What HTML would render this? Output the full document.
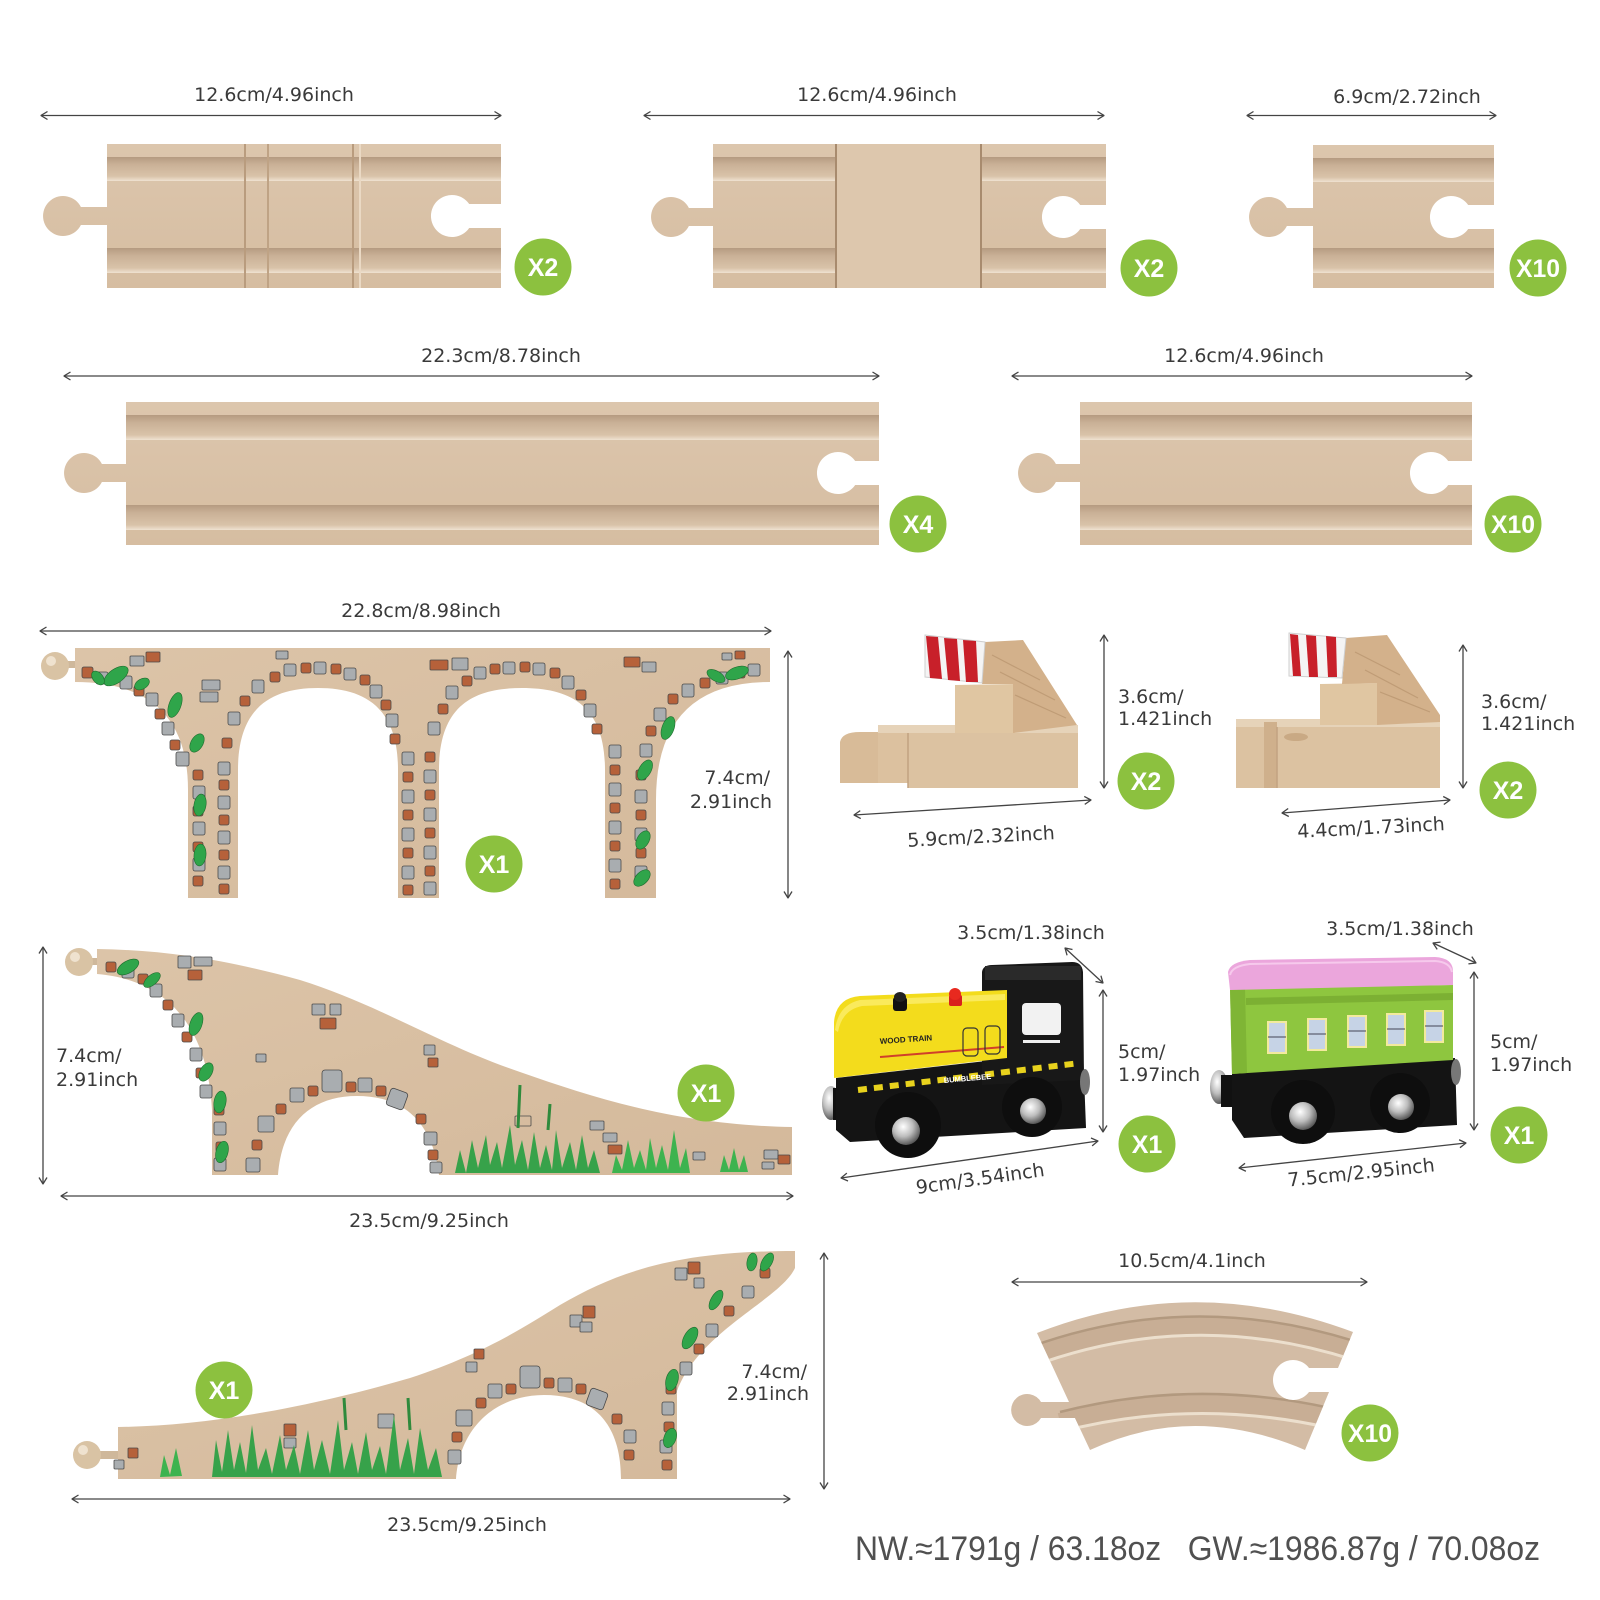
<!DOCTYPE html>
<html><head><meta charset="utf-8">
<style>html,body{margin:0;padding:0;background:#fff}svg{display:block}
.g{fill:#a9adb0;stroke:#4a4a4a;stroke-width:.8}
.b{fill:#b6613a;stroke:#4a4a4a;stroke-width:.8}
.l{fill:#2fa54a;stroke:#1f6b2e;stroke-width:.6}
</style></head>
<body>
<svg xmlns="http://www.w3.org/2000/svg" width="1600" height="1600" viewBox="0 0 1600 1600">
<defs>
<marker id="ah" viewBox="0 0 8 10" refX="7.5" refY="5" markerWidth="8" markerHeight="10" orient="auto-start-reverse" markerUnits="userSpaceOnUse"><path d="M1,1 L7.5,5 L1,9" fill="none" stroke="#444" stroke-width="1.3"/></marker>
<linearGradient id="wood" x1="0" y1="0" x2="0" y2="1"><stop offset="0" stop-color="#dcc6ad"/><stop offset="1" stop-color="#d6bda1"/></linearGradient>
<linearGradient id="woodB" x1="0" y1="0" x2="1" y2="1"><stop offset="0" stop-color="#dcc4a8"/><stop offset="1" stop-color="#d4b99b"/></linearGradient>
<linearGradient id="grv" x1="0" y1="0" x2="0" y2="1"><stop offset="0" stop-color="#b59b81"/><stop offset="0.3" stop-color="#c9b096"/><stop offset="0.8" stop-color="#d9c3a9"/><stop offset="1" stop-color="#efe2d1"/></linearGradient>
<radialGradient id="hub" cx="0.4" cy="0.35" r="0.7"><stop offset="0" stop-color="#ffffff"/><stop offset="0.5" stop-color="#bdbdbd"/><stop offset="1" stop-color="#4a4a4a"/></radialGradient>
<clipPath id="cc"><path d="M1037,1333 Q1193,1272 1353,1332 L1338,1368 L1309,1368 A20,20 0 1 0 1309,1392 L1329,1392 L1305,1450 Q1193,1402 1090,1450 L1075,1418 L1041,1418 A16,16 0 1 1 1041,1402 L1069,1402 Z"/></clipPath>
</defs>

<!-- ===== Dimension lines ===== -->
<g stroke="#444" stroke-width="1.3" fill="none" marker-start="url(#ah)" marker-end="url(#ah)">
<line x1="41" y1="115.5" x2="501" y2="115.5"/>
<line x1="644" y1="115.5" x2="1104" y2="115.5"/>
<line x1="1247" y1="115.5" x2="1496" y2="115.5"/>
<line x1="64" y1="376" x2="879" y2="376"/>
<line x1="1012" y1="376" x2="1472" y2="376"/>
<line x1="40" y1="631" x2="771" y2="631"/>
<line x1="788" y1="651" x2="788" y2="898"/>
<line x1="1104" y1="635" x2="1104" y2="788"/>
<line x1="854" y1="815" x2="1091" y2="800"/>
<line x1="1463" y1="645" x2="1463" y2="788"/>
<line x1="1282" y1="813" x2="1450" y2="800"/>
<line x1="43" y1="947" x2="43" y2="1184"/>
<line x1="61" y1="1196" x2="793" y2="1196"/>
<line x1="1065" y1="948" x2="1103" y2="983"/>
<line x1="1103" y1="990" x2="1103" y2="1132"/>
<line x1="841" y1="1178" x2="1098" y2="1141"/>
<line x1="1433" y1="943" x2="1476" y2="963"/>
<line x1="1474" y1="972" x2="1474" y2="1130"/>
<line x1="1239" y1="1168" x2="1466" y2="1143"/>
<line x1="824" y1="1253" x2="824" y2="1489"/>
<line x1="72" y1="1499" x2="790" y2="1499"/>
<line x1="1012" y1="1282" x2="1367" y2="1282"/>
</g>

<!-- ===== Labels ===== -->
<g font-family="'DejaVu Sans', 'Liberation Sans', sans-serif" font-size="19" fill="#3a3a3a" text-anchor="middle">
<text x="274" y="101">12.6cm/4.96inch</text>
<text x="877" y="101">12.6cm/4.96inch</text>
<text x="1407" y="103">6.9cm/2.72inch</text>
<text x="501" y="362">22.3cm/8.78inch</text>
<text x="1244" y="362">12.6cm/4.96inch</text>
<text x="421" y="617">22.8cm/8.98inch</text>
<text x="770" y="784" text-anchor="end">7.4cm/</text>
<text x="772" y="808" text-anchor="end">2.91inch</text>
<text x="1118" y="703" text-anchor="start">3.6cm/</text>
<text x="1118" y="725" text-anchor="start">1.421inch</text>
<text x="981" y="843" transform="rotate(-3 981 837)">5.9cm/2.32inch</text>
<text x="1481" y="708" text-anchor="start">3.6cm/</text>
<text x="1481" y="730" text-anchor="start">1.421inch</text>
<text x="1371" y="834" transform="rotate(-3 1371 828)">4.4cm/1.73inch</text>
<text x="56" y="1062" text-anchor="start">7.4cm/</text>
<text x="56" y="1086" text-anchor="start">2.91inch</text>
<text x="429" y="1227">23.5cm/9.25inch</text>
<text x="1031" y="939">3.5cm/1.38inch</text>
<text x="1118" y="1058" text-anchor="start">5cm/</text>
<text x="1118" y="1081" text-anchor="start">1.97inch</text>
<text x="980" y="1185" transform="rotate(-8 980 1178)">9cm/3.54inch</text>
<text x="1400" y="935">3.5cm/1.38inch</text>
<text x="1490" y="1048" text-anchor="start">5cm/</text>
<text x="1490" y="1071" text-anchor="start">1.97inch</text>
<text x="1361" y="1179" transform="rotate(-6 1361 1172)">7.5cm/2.95inch</text>
<text x="807" y="1378" text-anchor="end">7.4cm/</text>
<text x="809" y="1400" text-anchor="end">2.91inch</text>
<text x="467" y="1531">23.5cm/9.25inch</text>
<text x="1192" y="1267">10.5cm/4.1inch</text>
</g>
<text x="855" y="1560" font-family="'Liberation Sans Narrow','Liberation Sans', sans-serif" font-size="34" fill="#505050" textLength="685" lengthAdjust="spacingAndGlyphs">NW.≈1791g / 63.18oz&#160;&#160; GW.≈1986.87g / 70.08oz</text>

<!-- ===== Row 1 tracks ===== -->
<path d="M107,144 H501 V204 H469.2 A21,21 0 1 0 469.2,228 H501 V288 H107 V225 H80.9 A20,20 0 1 1 80.9,207 H107 Z" fill="url(#wood)"/>
<rect x="107" y="157" width="394" height="24" fill="url(#grv)"/>
<rect x="107" y="248" width="394" height="25" fill="url(#grv)"/>
<g stroke-width="2"><line x1="245" y1="144" x2="245" y2="288" stroke="#b99c7e"/><line x1="268" y1="144" x2="268" y2="288" stroke="#bfa385"/><line x1="353" y1="144" x2="353" y2="288" stroke="#b99c7e"/><line x1="360" y1="144" x2="360" y2="288" stroke="#ead9c4"/></g>

<path d="M713,144 H1106 V205 H1080.2 A21,21 0 1 0 1080.2,229 H1106 V288 H713 V226 H688.9 A20,20 0 1 1 688.9,208 H713 Z" fill="url(#wood)"/>
<rect x="713" y="157" width="393" height="24" fill="url(#grv)"/>
<rect x="713" y="248" width="393" height="25" fill="url(#grv)"/>
<rect x="836" y="144" width="145" height="144" fill="#ddc7ad"/>
<line x1="836" y1="144" x2="836" y2="288" stroke="#a88b6e" stroke-width="2"/>
<line x1="981" y1="144" x2="981" y2="288" stroke="#a88b6e" stroke-width="2"/>

<path d="M1313,145 H1494 V205 H1468.2 A21,21 0 1 0 1468.2,229 H1494 V288 H1313 V226 H1286.9 A20,20 0 1 1 1286.9,208 H1313 Z" fill="url(#wood)"/>
<rect x="1313" y="158" width="181" height="24" fill="url(#grv)"/>
<rect x="1313" y="248" width="181" height="25" fill="url(#grv)"/>

<!-- ===== Row 2 tracks ===== -->
<path d="M126,402 H879 V461 H855.2 A21,21 0 1 0 855.2,485 H879 V545 H126 V482 H101.9 A20,20 0 1 1 101.9,464 H126 Z" fill="url(#wood)"/>
<rect x="126" y="415" width="753" height="25" fill="url(#grv)"/>
<rect x="126" y="505" width="753" height="25" fill="url(#grv)"/>
<path d="M1080,402 H1472 V461 H1448.2 A21,21 0 1 0 1448.2,485 H1472 V545 H1080 V482 H1055.9 A20,20 0 1 1 1055.9,464 H1080 Z" fill="url(#wood)"/>
<rect x="1080" y="415" width="392" height="25" fill="url(#grv)"/>
<rect x="1080" y="505" width="392" height="25" fill="url(#grv)"/>

<!-- ===== Bridge ===== -->
<rect x="60" y="661" width="18" height="7" fill="#cfb89b"/>
<circle cx="55" cy="666" r="14" fill="#d9c3a4"/>
<circle cx="51" cy="661" r="5" fill="#efe2cf"/>
<path d="M75,648 H770 V682 Q656,682 656,800 V898 H605 V770 C605,705 570,688 522,688 C474,688 439,705 439,770 V898 H398 V770 C398,705 362,688 318,688 C274,688 238,705 238,770 V898 H188 V790 Q188,682 75,682 Z" fill="url(#woodB)"/>
<g>
<rect class="b" x="82" y="667" width="11" height="11" rx="2"/><rect class="g" x="96" y="672" width="12" height="12" rx="2"/><rect class="g" x="120" y="676" width="12" height="13" rx="2"/><rect class="b" x="134" y="686" width="10" height="10" rx="2"/><rect class="g" x="146" y="693" width="12" height="13" rx="2"/><rect class="b" x="155" y="709" width="10" height="10" rx="2"/><rect class="g" x="162" y="722" width="12" height="13" rx="2"/><rect class="b" x="170" y="740" width="10" height="10" rx="2"/><rect class="g" x="176" y="752" width="13" height="14" rx="2"/>
<rect class="b" x="193" y="770" width="10" height="10" rx="2"/><rect class="g" x="193" y="786" width="12" height="13" rx="2"/><rect class="b" x="193" y="806" width="10" height="10" rx="2"/><rect class="g" x="193" y="822" width="12" height="13" rx="2"/><rect class="b" x="193" y="842" width="10" height="10" rx="2"/><rect class="g" x="193" y="858" width="12" height="13" rx="2"/><rect class="b" x="193" y="876" width="10" height="10" rx="2"/>
<rect class="g" x="218" y="762" width="12" height="13" rx="2"/><rect class="b" x="219" y="780" width="10" height="10" rx="2"/><rect class="g" x="218" y="796" width="12" height="13" rx="2"/><rect class="b" x="219" y="815" width="10" height="10" rx="2"/><rect class="g" x="218" y="831" width="12" height="13" rx="2"/><rect class="b" x="219" y="850" width="10" height="10" rx="2"/><rect class="g" x="218" y="866" width="12" height="13" rx="2"/><rect class="b" x="219" y="884" width="10" height="10" rx="2"/>
<rect class="b" x="222" y="738" width="10" height="10" rx="2"/><rect class="g" x="228" y="712" width="12" height="13" rx="2"/><rect class="b" x="240" y="696" width="10" height="10" rx="2"/><rect class="g" x="252" y="680" width="12" height="13" rx="2"/><rect class="b" x="270" y="672" width="10" height="10" rx="2"/><rect class="g" x="284" y="664" width="12" height="12" rx="2"/><rect class="b" x="301" y="663" width="10" height="10" rx="2"/><rect class="g" x="314" y="662" width="12" height="12" rx="2"/><rect class="b" x="331" y="664" width="10" height="10" rx="2"/><rect class="g" x="344" y="668" width="12" height="12" rx="2"/><rect class="b" x="360" y="675" width="10" height="10" rx="2"/><rect class="g" x="370" y="685" width="12" height="13" rx="2"/><rect class="b" x="381" y="700" width="10" height="10" rx="2"/><rect class="g" x="386" y="714" width="12" height="13" rx="2"/><rect class="b" x="390" y="734" width="10" height="10" rx="2"/>
<rect class="g" x="402" y="752" width="12" height="13" rx="2"/><rect class="b" x="403" y="772" width="10" height="10" rx="2"/><rect class="g" x="402" y="790" width="12" height="13" rx="2"/><rect class="b" x="403" y="810" width="10" height="10" rx="2"/><rect class="g" x="402" y="828" width="12" height="13" rx="2"/><rect class="b" x="403" y="848" width="10" height="10" rx="2"/><rect class="g" x="402" y="866" width="12" height="13" rx="2"/><rect class="b" x="403" y="885" width="10" height="10" rx="2"/>
<rect class="b" x="425" y="752" width="10" height="10" rx="2"/><rect class="g" x="424" y="770" width="12" height="13" rx="2"/><rect class="b" x="425" y="790" width="10" height="10" rx="2"/><rect class="g" x="424" y="808" width="12" height="13" rx="2"/><rect class="b" x="425" y="828" width="10" height="10" rx="2"/><rect class="g" x="424" y="846" width="12" height="13" rx="2"/><rect class="b" x="425" y="866" width="10" height="10" rx="2"/><rect class="g" x="424" y="882" width="12" height="13" rx="2"/>
<rect class="g" x="428" y="722" width="12" height="13" rx="2"/><rect class="b" x="438" y="704" width="10" height="10" rx="2"/><rect class="g" x="446" y="686" width="12" height="13" rx="2"/><rect class="b" x="462" y="676" width="10" height="10" rx="2"/><rect class="g" x="474" y="667" width="12" height="12" rx="2"/><rect class="b" x="490" y="664" width="10" height="10" rx="2"/><rect class="g" x="503" y="662" width="12" height="12" rx="2"/><rect class="b" x="520" y="662" width="10" height="10" rx="2"/><rect class="g" x="533" y="663" width="12" height="12" rx="2"/><rect class="b" x="550" y="668" width="10" height="10" rx="2"/><rect class="g" x="562" y="676" width="12" height="13" rx="2"/><rect class="b" x="576" y="690" width="10" height="10" rx="2"/><rect class="g" x="584" y="704" width="12" height="13" rx="2"/><rect class="b" x="592" y="724" width="10" height="10" rx="2"/>
<rect class="g" x="609" y="745" width="12" height="13" rx="2"/><rect class="b" x="610" y="765" width="10" height="10" rx="2"/><rect class="g" x="609" y="783" width="12" height="13" rx="2"/><rect class="b" x="610" y="803" width="10" height="10" rx="2"/><rect class="g" x="609" y="821" width="12" height="13" rx="2"/><rect class="b" x="610" y="841" width="10" height="10" rx="2"/><rect class="g" x="609" y="859" width="12" height="13" rx="2"/><rect class="b" x="610" y="879" width="10" height="10" rx="2"/>
<rect class="b" x="636" y="770" width="10" height="10" rx="2"/><rect class="g" x="635" y="790" width="12" height="13" rx="2"/><rect class="b" x="636" y="810" width="10" height="10" rx="2"/><rect class="g" x="635" y="828" width="12" height="13" rx="2"/><rect class="b" x="636" y="848" width="10" height="10" rx="2"/><rect class="g" x="635" y="866" width="12" height="13" rx="2"/>
<rect class="g" x="640" y="744" width="12" height="13" rx="2"/><rect class="b" x="646" y="726" width="10" height="10" rx="2"/><rect class="g" x="654" y="708" width="12" height="13" rx="2"/><rect class="b" x="668" y="694" width="10" height="10" rx="2"/><rect class="g" x="682" y="684" width="12" height="13" rx="2"/><rect class="b" x="700" y="678" width="10" height="10" rx="2"/><rect class="g" x="716" y="672" width="12" height="12" rx="2"/><rect class="b" x="735" y="668" width="10" height="10" rx="2"/><rect class="g" x="748" y="664" width="12" height="12" rx="2"/>
<rect class="g" x="130" y="656" width="14" height="10" rx="1"/><rect class="b" x="146" y="652" width="14" height="10" rx="1"/><rect class="g" x="202" y="680" width="18" height="10" rx="1"/><rect class="g" x="200" y="692" width="18" height="10" rx="1"/><rect class="g" x="276" y="651" width="12" height="8" rx="1"/><rect class="b" x="430" y="660" width="18" height="10" rx="1"/><rect class="g" x="452" y="658" width="16" height="12" rx="1"/><rect class="b" x="624" y="657" width="16" height="10" rx="1"/><rect class="g" x="642" y="662" width="14" height="10" rx="1"/><rect class="g" x="722" y="653" width="10" height="7" rx="1"/><rect class="b" x="735" y="651" width="10" height="8" rx="1"/>
<ellipse class="l" cx="116" cy="676" rx="14" ry="7" transform="rotate(-35 116 676)"/><ellipse class="l" cx="98" cy="678" rx="8" ry="5" transform="rotate(50 98 678)"/><ellipse class="l" cx="142" cy="684" rx="8" ry="5" transform="rotate(-30 142 684)"/><ellipse class="l" cx="175" cy="705" rx="13" ry="6" transform="rotate(-70 175 705)"/><ellipse class="l" cx="197" cy="743" rx="10" ry="6" transform="rotate(-60 197 743)"/><ellipse class="l" cx="200" cy="805" rx="11" ry="6" transform="rotate(-80 200 805)"/><ellipse class="l" cx="200" cy="855" rx="11" ry="6" transform="rotate(-85 200 855)"/>
<ellipse class="l" cx="737" cy="673" rx="12" ry="6" transform="rotate(-20 737 673)"/><ellipse class="l" cx="716" cy="676" rx="10" ry="5" transform="rotate(30 716 676)"/><ellipse class="l" cx="668" cy="728" rx="12" ry="6" transform="rotate(-70 668 728)"/><ellipse class="l" cx="645" cy="770" rx="11" ry="6" transform="rotate(-60 645 770)"/><ellipse class="l" cx="643" cy="840" rx="10" ry="6" transform="rotate(-60 643 840)"/><ellipse class="l" cx="642" cy="878" rx="10" ry="6" transform="rotate(-45 642 878)"/>
</g>

<!-- ===== Ramp (row 4) ===== -->
<rect x="84" y="958" width="15" height="7" fill="#cfb89b"/>
<circle cx="79" cy="962" r="14" fill="#d9c3a4"/>
<circle cx="75" cy="957" r="5" fill="#efe2cf"/>
<path d="M97,949 C160,950 220,958 300,980 C380,1005 440,1045 520,1072 C600,1100 680,1125 792,1127 V1175 H439 C432,1118 400,1096 357,1096 C312,1096 282,1122 278,1175 H212 V1110 C208,1030 170,980 97,974 Z" fill="url(#woodB)"/>
<g>
<rect class="b" x="106" y="962" width="10" height="10" rx="2"/><rect class="g" x="122" y="966" width="12" height="12" rx="2"/><rect class="b" x="138" y="974" width="10" height="10" rx="2"/><rect class="g" x="150" y="984" width="12" height="13" rx="2"/><rect class="b" x="163" y="1000" width="10" height="10" rx="2"/><rect class="g" x="172" y="1014" width="12" height="13" rx="2"/><rect class="b" x="182" y="1032" width="10" height="10" rx="2"/><rect class="g" x="190" y="1048" width="12" height="13" rx="2"/><rect class="b" x="196" y="1068" width="10" height="10" rx="2"/><rect class="g" x="200" y="1085" width="12" height="13" rx="2"/><rect class="b" x="214" y="1105" width="10" height="10" rx="2"/><rect class="g" x="214" y="1122" width="12" height="13" rx="2"/><rect class="b" x="216" y="1142" width="10" height="10" rx="2"/><rect class="g" x="214" y="1158" width="12" height="13" rx="2"/>
<rect class="g" x="178" y="956" width="13" height="12" rx="1"/><rect class="g" x="194" y="957" width="18" height="9" rx="1"/><rect class="b" x="188" y="970" width="14" height="10" rx="1"/>
<rect class="g" x="246" y="1158" width="14" height="14" rx="2"/><rect class="b" x="252" y="1140" width="10" height="10" rx="2"/><rect class="g" x="258" y="1116" width="16" height="16" rx="2"/><rect class="b" x="276" y="1104" width="10" height="10" rx="2"/><rect class="g" x="290" y="1088" width="14" height="14" rx="2"/><rect class="b" x="308" y="1086" width="10" height="10" rx="2"/><rect class="g" x="322" y="1070" width="20" height="22" rx="3"/><rect class="b" x="346" y="1082" width="10" height="10" rx="2"/><rect class="g" x="358" y="1078" width="14" height="14" rx="2"/><rect class="b" x="376" y="1086" width="10" height="10" rx="2"/><rect class="g" x="388" y="1090" width="18" height="18" rx="3" transform="rotate(20 397 1099)"/><rect class="b" x="416" y="1114" width="10" height="10" rx="2"/><rect class="g" x="424" y="1132" width="13" height="13" rx="2"/><rect class="b" x="428" y="1150" width="10" height="10" rx="2"/><rect class="g" x="430" y="1162" width="12" height="11" rx="2"/>
<rect class="g" x="312" y="1004" width="13" height="11" rx="1"/><rect class="g" x="330" y="1004" width="11" height="11" rx="1"/><rect class="b" x="320" y="1018" width="16" height="11" rx="1"/><rect class="g" x="256" y="1054" width="10" height="8" rx="1"/><rect class="g" x="424" y="1045" width="11" height="10" rx="1"/><rect class="b" x="428" y="1058" width="10" height="9" rx="1"/>
<ellipse class="l" cx="128" cy="967" rx="12" ry="6" transform="rotate(-30 128 967)"/><ellipse class="l" cx="152" cy="980" rx="10" ry="5" transform="rotate(-40 152 980)"/><ellipse class="l" cx="196" cy="1024" rx="12" ry="6" transform="rotate(-70 196 1024)"/><ellipse class="l" cx="206" cy="1072" rx="10" ry="6" transform="rotate(-60 206 1072)"/><ellipse class="l" cx="220" cy="1102" rx="11" ry="6" transform="rotate(-80 220 1102)"/><ellipse class="l" cx="222" cy="1152" rx="11" ry="6" transform="rotate(-75 222 1152)"/>
<rect class="g" x="590" y="1121" width="14" height="9" rx="1"/><rect class="g" x="603" y="1133" width="14" height="9" rx="1"/><rect class="b" x="608" y="1145" width="14" height="9" rx="1"/><rect x="515" y="1116" width="16" height="10" rx="1" fill="none" stroke="#4a4a4a" stroke-width=".8"/><rect class="g" x="693" y="1152" width="12" height="8" rx="1"/><rect class="g" x="764" y="1150" width="14" height="9" rx="1"/><rect class="b" x="778" y="1155" width="12" height="9" rx="1"/><rect class="g" x="762" y="1162" width="12" height="7" rx="1"/>
<path d="M455,1173 L460,1150 L466,1173 L472,1140 L478,1168 L486,1135 L490,1165 L497,1142 L502,1168 L510,1125 L515,1165 L522,1140 L528,1170 L534,1132 L540,1168 L546,1145 L552,1170 L556,1130 L562,1168 L570,1142 L576,1170 L582,1135 L588,1168 L594,1150 L600,1173 Z" fill="#37a24a"/>
<path d="M612,1173 L616,1155 L622,1170 L628,1140 L634,1168 L640,1150 L646,1170 L650,1138 L656,1168 L662,1145 L668,1170 L674,1130 L680,1168 L686,1148 L690,1173 Z" fill="#3db34f"/>
<path d="M720,1172 L724,1155 L729,1170 L734,1148 L739,1170 L744,1155 L748,1172 Z" fill="#3db34f"/>
<path d="M518,1128 L520,1085 M548,1130 L550,1104" stroke="#2f8a3c" stroke-width="3"/>
</g>

<!-- ===== Ramp (row 5) ===== -->
<rect x="100" y="1451" width="20" height="8" fill="#cfb89b"/>
<circle cx="87" cy="1455" r="14" fill="#d9c3a4"/>
<circle cx="83" cy="1450" r="5" fill="#efe2cf"/>
<path d="M118,1427 C200,1426 300,1410 410,1378 C480,1355 520,1330 560,1305 C620,1270 680,1251 795,1251 V1268 C780,1300 700,1330 677,1391 V1479 H621 C621,1420 590,1395 544,1395 C498,1395 460,1425 456,1479 H118 Z" fill="url(#woodB)"/>
<g>
<rect class="g" x="675" y="1268" width="12" height="12" rx="1"/><rect class="b" x="688" y="1262" width="12" height="12" rx="1"/><rect class="g" x="694" y="1278" width="10" height="10" rx="1"/><rect class="b" x="760" y="1268" width="10" height="10" rx="2"/><rect class="g" x="742" y="1286" width="12" height="12" rx="2"/><rect class="b" x="724" y="1306" width="10" height="10" rx="2"/><rect class="g" x="706" y="1324" width="12" height="13" rx="2"/><rect class="b" x="694" y="1344" width="10" height="10" rx="2"/><rect class="g" x="680" y="1362" width="12" height="13" rx="2"/><rect class="b" x="666" y="1384" width="10" height="10" rx="2"/><rect class="g" x="662" y="1402" width="12" height="13" rx="2"/><rect class="b" x="664" y="1422" width="10" height="10" rx="2"/><rect class="g" x="660" y="1440" width="12" height="13" rx="2"/><rect class="b" x="662" y="1460" width="10" height="10" rx="2"/>
<rect class="g" x="448" y="1450" width="13" height="14" rx="2"/><rect class="b" x="452" y="1432" width="10" height="10" rx="2"/><rect class="g" x="456" y="1410" width="16" height="16" rx="2"/><rect class="b" x="476" y="1398" width="10" height="10" rx="2"/><rect class="g" x="488" y="1384" width="14" height="14" rx="2"/><rect class="b" x="506" y="1384" width="10" height="10" rx="2"/><rect class="g" x="520" y="1366" width="20" height="22" rx="3"/><rect class="b" x="544" y="1378" width="10" height="10" rx="2"/><rect class="g" x="558" y="1378" width="14" height="14" rx="2"/><rect class="b" x="576" y="1384" width="10" height="10" rx="2"/><rect class="g" x="588" y="1390" width="18" height="18" rx="3" transform="rotate(20 597 1399)"/><rect class="b" x="612" y="1414" width="10" height="10" rx="2"/><rect class="g" x="624" y="1430" width="12" height="13" rx="2"/><rect class="b" x="624" y="1450" width="10" height="10" rx="2"/>
<rect class="g" x="570" y="1315" width="12" height="12" rx="1"/><rect class="b" x="583" y="1306" width="12" height="12" rx="1"/><rect class="g" x="580" y="1322" width="12" height="10" rx="1"/><rect class="b" x="474" y="1349" width="10" height="10" rx="1"/><rect class="g" x="466" y="1362" width="11" height="10" rx="1"/><rect class="g" x="378" y="1414" width="16" height="14" rx="1"/><rect class="b" x="284" y="1424" width="12" height="12" rx="1"/><rect class="g" x="284" y="1438" width="12" height="10" rx="1"/><rect class="b" x="128" y="1448" width="10" height="10" rx="1"/><rect class="g" x="114" y="1460" width="10" height="9" rx="1"/>
<ellipse class="l" cx="767" cy="1262" rx="10" ry="5" transform="rotate(-60 767 1262)"/><ellipse class="l" cx="752" cy="1262" rx="9" ry="5" transform="rotate(-80 752 1262)"/><ellipse class="l" cx="716" cy="1300" rx="11" ry="5" transform="rotate(-60 716 1300)"/><ellipse class="l" cx="690" cy="1338" rx="12" ry="6" transform="rotate(-60 690 1338)"/><ellipse class="l" cx="672" cy="1380" rx="11" ry="6" transform="rotate(-75 672 1380)"/><ellipse class="l" cx="670" cy="1438" rx="10" ry="6" transform="rotate(-70 670 1438)"/>
<path d="M160,1477 L164,1455 L170,1475 L176,1448 L182,1476 Z" fill="#3db34f"/>
<path d="M212,1477 L216,1440 L222,1472 L228,1430 L234,1470 L240,1442 L246,1473 L252,1425 L258,1470 L266,1448 L272,1474 L280,1435 L286,1470 L294,1445 L300,1474 L308,1430 L314,1470 L322,1440 L330,1474 L338,1420 L344,1470 L352,1442 L358,1474 L366,1432 L372,1470 L380,1446 L386,1474 L394,1415 L400,1470 L408,1438 L414,1474 L420,1428 L428,1470 L436,1448 L442,1477 Z" fill="#37a24a"/>
<path d="M346,1430 L344,1398 M410,1430 L408,1398" stroke="#2f8a3c" stroke-width="3"/>
</g>

<!-- ===== Buffer stop 1 ===== -->
<path d="M840,742 Q842,732 860,732 L882,732 L882,783 L840,783 Z" fill="#d8bb98"/>
<rect x="878" y="725" width="32" height="58" fill="#dcc19f"/>
<rect x="878" y="725" width="200" height="8" fill="#e6d3b9"/>
<rect x="908" y="733" width="170" height="55" fill="#dcc2a1"/>
<line x1="908" y1="733" x2="908" y2="788" stroke="#c2a381" stroke-width="1.5"/>
<polygon points="955,685 1015,684 1015,733 955,733" fill="#e0c6a2"/>
<polygon points="985,642 1023,640 1077,725 1013,733 1013,684 982,684" fill="#d3b18b"/>
<g stroke="#bf9c76" stroke-width="1.2" fill="none"><path d="M992,655 L1040,680"/><path d="M1000,672 L1055,700"/><path d="M1015,695 L1066,718"/></g>
<polygon points="925,635 985,642 982,683 925,677" fill="#f4f4f4" stroke="#cfcfcf" stroke-width="1"/>
<polygon points="926,636 938,637 942,679 930,678" fill="#c8202a"/>
<polygon points="944,638 957,639 960,681 948,680" fill="#c8202a"/>
<polygon points="963,640 976,641 978,682 966,682" fill="#c8202a"/>

<!-- ===== Buffer stop 2 ===== -->
<rect x="1236" y="719" width="204" height="8" fill="#e6d3b9"/>
<rect x="1236" y="727" width="204" height="61" fill="#dcc2a1"/>
<rect x="1264" y="722" width="13" height="66" fill="#cfb08c"/>
<line x1="1277" y1="727" x2="1277" y2="788" stroke="#c2a381" stroke-width="1.5"/>
<ellipse cx="1296" cy="737" rx="12" ry="4" fill="#c9a984"/>
<polygon points="1320,684 1377,683 1377,725 1320,725" fill="#e0c6a2"/>
<polygon points="1346,638 1387,635 1440,715 1440,722 1377,725 1377,683 1342,684" fill="#d3b18b"/>
<g stroke="#bf9c76" stroke-width="1.2" fill="none"><path d="M1355,652 L1400,675"/><path d="M1365,670 L1418,698"/><path d="M1380,692 L1430,712"/></g>
<polygon points="1289,633 1346,638 1342,678 1289,676" fill="#f4f4f4" stroke="#cfcfcf" stroke-width="1"/>
<polygon points="1290,634 1298,635 1301,676 1293,676" fill="#c8202a"/>
<polygon points="1306,635 1316,636 1318,677 1309,677" fill="#c8202a"/>
<polygon points="1326,636 1336,637 1337,677 1328,677" fill="#c8202a"/>

<!-- ===== Engine ===== -->
<ellipse cx="831" cy="1103" rx="9" ry="17" fill="url(#hub)"/>
<rect x="833" y="1088" width="20" height="32" fill="#111"/>
<polygon points="836,1078 1083,1050 1086,1128 850,1142 836,1130" fill="#141414"/>
<path d="M982,972 Q983,965 992,965 L1072,962 Q1082,962 1083,972 L1084,1080 L982,1085 Z" fill="#181818"/>
<rect x="985" y="966" width="96" height="14" fill="#2a2a2a"/>
<rect x="1022" y="1003" width="39" height="32" rx="4" fill="#f2f2f2"/>
<rect x="1023" y="1040" width="37" height="3" fill="#eee"/>
<path d="M834,1078 L834,1022 Q836,998 860,996 L1007,990 L1007,1058 Z" fill="#f3dc1c"/>
<path d="M835,1030 Q838,1005 860,1000 L1005,994 L1005,1000 L862,1006 Q842,1010 838,1032 Z" fill="#faea5c"/>
<line x1="880" y1="1057" x2="1004" y2="1047" stroke="#d0402a" stroke-width="2"/>
<rect x="963" y="1028" width="15" height="28" rx="4" fill="none" stroke="#333" stroke-width="1.2"/>
<rect x="985" y="1026" width="15" height="28" rx="4" fill="none" stroke="#333" stroke-width="1.2"/>
<line x1="858" y1="1090" x2="1080" y2="1063" stroke="#e8d21d" stroke-width="6" stroke-dasharray="9 7"/>
<text x="880" y="1044" font-family="'Liberation Sans',sans-serif" font-size="8" font-weight="bold" fill="#222" transform="rotate(-4 880 1044)">WOOD TRAIN</text>
<text x="944" y="1083" font-family="'Liberation Sans',sans-serif" font-size="7.5" font-weight="bold" fill="#fff" transform="rotate(-5 944 1083)">BUMBLEBEE</text>
<rect x="893" y="997" width="14" height="14" rx="3" fill="#111"/><ellipse cx="900" cy="997" rx="6" ry="5" fill="#222"/>
<rect x="949" y="995" width="13" height="11" rx="2" fill="#d9201c"/><ellipse cx="955" cy="994" rx="6" ry="6" fill="#e8291f"/>
<circle cx="908" cy="1125" r="33" fill="#0e0e0e"/>
<circle cx="906" cy="1131" r="14" fill="url(#hub)"/>
<circle cx="1032" cy="1107" r="30" fill="#0e0e0e"/>
<circle cx="1033" cy="1111" r="13" fill="url(#hub)"/>
<ellipse cx="1085" cy="1082" rx="5" ry="13" fill="#777"/>

<!-- ===== Carriage ===== -->
<ellipse cx="1219" cy="1087" rx="9" ry="17" fill="url(#hub)"/>
<rect x="1221" y="1075" width="18" height="32" fill="#111"/>
<polygon points="1232,1068 1455,1058 1457,1125 1244,1138 1232,1120" fill="#141414"/>
<polygon points="1230,988 1453,985 1453,1060 1232,1074" fill="#8ec63f"/>
<polygon points="1230,988 1245,988 1247,1073 1232,1074" fill="#7fb535"/>
<polygon points="1246,998 1453,993 1453,1000 1246,1005" fill="#7cb033"/>
<path d="M1228,972 Q1230,962 1250,960 L1435,957 Q1452,958 1453,970 L1453,985 L1230,990 Z" fill="#eba6dc"/>
<path d="M1230,975 Q1232,966 1250,964 L1435,961 Q1450,962 1452,972" fill="none" stroke="#f6c9ec" stroke-width="2"/>
<g fill="#c6d3e6" stroke="#f3ea9d" stroke-width="2">
<rect x="1268" y="1022" width="18" height="31"/><rect x="1308" y="1019" width="18" height="31"/><rect x="1348" y="1016" width="18" height="31"/><rect x="1387" y="1014" width="18" height="31"/><rect x="1425" y="1011" width="18" height="31"/>
</g>
<g stroke="#445" stroke-width="1"><line x1="1268" y1="1037" x2="1286" y2="1037"/><line x1="1308" y1="1034" x2="1326" y2="1034"/><line x1="1348" y1="1031" x2="1366" y2="1031"/><line x1="1387" y1="1029" x2="1405" y2="1029"/><line x1="1425" y1="1026" x2="1443" y2="1026"/></g>
<circle cx="1303" cy="1112" r="32" fill="#0e0e0e"/>
<circle cx="1303" cy="1116" r="14" fill="url(#hub)"/>
<circle cx="1400" cy="1103" r="30" fill="#0e0e0e"/>
<circle cx="1401" cy="1107" r="13" fill="url(#hub)"/>
<ellipse cx="1456" cy="1072" rx="5" ry="13" fill="#777"/>

<!-- ===== Curved track ===== -->
<path d="M1037,1333 Q1193,1272 1353,1332 L1338,1368 L1309,1368 A20,20 0 1 0 1309,1392 L1329,1392 L1305,1450 Q1193,1402 1090,1450 L1075,1418 L1041,1418 A16,16 0 1 1 1041,1402 L1069,1402 Z" fill="#d3bca5"/>
<g clip-path="url(#cc)" fill="none">
<path d="M1030,1357 Q1193,1297 1360,1352" stroke="#c8ae95" stroke-width="18"/>
<path d="M1030,1347 Q1193,1288 1360,1343" stroke="#b2997f" stroke-width="2.5"/>
<path d="M1030,1367 Q1193,1306 1360,1362" stroke="#ecdfcd" stroke-width="3"/>
<path d="M1060,1422 Q1193,1388 1330,1418" stroke="#c8ae95" stroke-width="18"/>
<path d="M1060,1412 Q1193,1378 1330,1408" stroke="#b2997f" stroke-width="2.5"/>
<path d="M1060,1432 Q1193,1397 1330,1428" stroke="#ecdfcd" stroke-width="3"/>
</g>

<!-- ===== Badges ===== -->
<g fill="#8cc13f">
<circle cx="543" cy="267" r="28.5"/><circle cx="1149" cy="268" r="28.5"/><circle cx="1538" cy="268" r="28.5"/>
<circle cx="918" cy="524" r="28.5"/><circle cx="1513" cy="524" r="28.5"/>
<circle cx="494" cy="864" r="28.5"/><circle cx="1146" cy="781" r="28.5"/><circle cx="1508" cy="790" r="28.5"/>
<circle cx="706" cy="1093" r="28.5"/><circle cx="1147" cy="1144" r="28.5"/><circle cx="1519" cy="1135" r="28.5"/>
<circle cx="224" cy="1390" r="28.5"/><circle cx="1370" cy="1433" r="28.5"/>
</g>
<g font-family="'Liberation Sans Narrow','Liberation Sans',sans-serif" font-size="25" font-weight="bold" fill="#fff" text-anchor="middle">
<text x="543" y="276">X2</text><text x="1149" y="277">X2</text><text x="1538" y="277" textLength="44" lengthAdjust="spacingAndGlyphs">X10</text>
<text x="918" y="533">X4</text><text x="1513" y="533" textLength="44" lengthAdjust="spacingAndGlyphs">X10</text>
<text x="494" y="873">X1</text><text x="1146" y="790">X2</text><text x="1508" y="799">X2</text>
<text x="706" y="1102">X1</text><text x="1147" y="1153">X1</text><text x="1519" y="1144">X1</text>
<text x="224" y="1399">X1</text><text x="1370" y="1442" textLength="44" lengthAdjust="spacingAndGlyphs">X10</text>
</g>
</svg>
</body></html>
